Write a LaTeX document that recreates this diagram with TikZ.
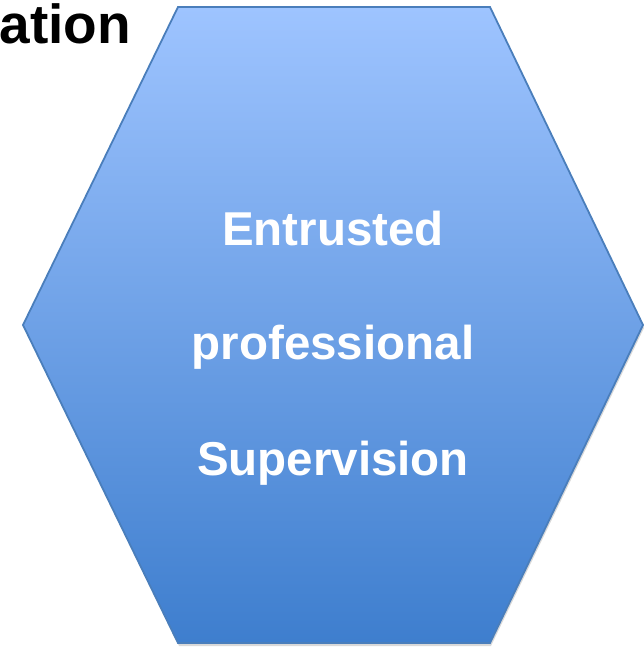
\documentclass[tikz,border=0pt]{standalone}
\usepackage{fontspec}
\setmainfont{Liberation Sans}
\usetikzlibrary{shadows}
\definecolor{hextop}{RGB}{158,196,255}
\definecolor{hexbot}{RGB}{62,126,206}
\definecolor{hexline}{RGB}{74,126,187}
\tikzset{
  hexcell/.style={draw=hexline, line width=1.8pt, top color=hextop, bottom color=hexbot,
    drop shadow={shadow xshift=1pt, shadow yshift=-3pt, opacity=0.3}},
  celltext/.style={text=white, font=\fontsize{47.5}{56}\selectfont\bfseries, inner sep=0pt, anchor=base},
  headtext/.style={text=black, font=\fontsize{55}{66}\selectfont\bfseries, inner sep=0pt, anchor=base east}
}
\begin{document}
\begin{tikzpicture}[x=1pt,y=-1pt]
\useasboundingbox (0,0) rectangle (644,647);
% hexagon
\path[hexcell] (178,7)--(490,7)--(643,325)--(490,643)--(178,643)--(23,325)--cycle;
\node[headtext] (head) at (131,44) {ation};
\node[celltext] (line1) at (333,245) {Entrusted};
\node[celltext] (line2) at (333,359) {professional};
\node[celltext] (line3) at (333,475) {Supervision};
\end{tikzpicture}
\end{document}
